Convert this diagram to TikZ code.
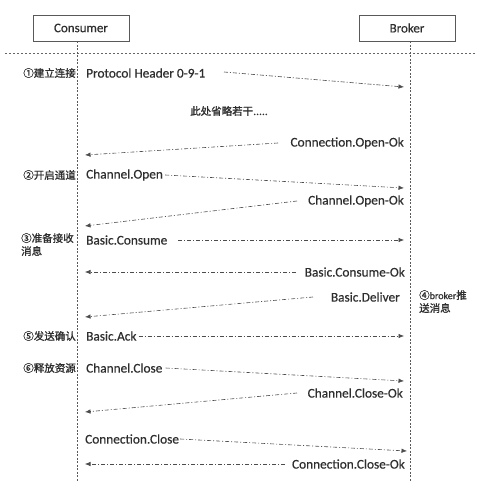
\documentclass[tikz,border=0pt]{standalone}
\usepackage{fontspec}
\setmainfont{Carlito}[FakeBold=0.4]
\newfontfamily\cjk{Noto Sans CJK SC}[FakeBold=1.2]
\usetikzlibrary{arrows.meta}
\begin{document}
\begin{tikzpicture}[x=1pt,y=-1pt,
  every node/.style={inner sep=0pt,text=black!82},
  actor/.style={draw=black!65,line width=0.8pt,minimum width=96pt,minimum height=26pt,font=\fontsize{13}{15}\selectfont},
  life/.style={draw=black!65,line width=0.7pt,dash pattern=on 2pt off 1.5pt},
  msg/.style={draw=black!70,line width=0.6pt,dash pattern=on 4pt off 2pt on 1pt off 2pt,-{Latex[length=5.5pt,width=4.5pt]}},
  lbl/.style={font=\fontsize{13.3}{15}\selectfont},
  phase/.style={font=\cjk\fontsize{10.5}{13}\selectfont,align=left},
]
\useasboundingbox (0,0) rectangle (486,494);
\fill[white] (0,0) rectangle (486,494);

% participants
\node[actor] (consumer) at (81,28) {Consumer};
\node[actor] (broker) at (407,28) {Broker};

% separator under the header
\draw[draw=black!60,line width=0.6pt,dash pattern=on 2pt off 2pt] (5,53) coordinate (sepL) -- (475,53) coordinate (sepR);

% lifelines
\coordinate (cEnd) at (77,482);
\coordinate (bEnd) at (410,482);
\draw[life] (consumer.south -| cEnd) -- (cEnd);
\draw[life] (broker.south -| bEnd) -- (bEnd);

% phase captions
\node[phase,anchor=east] (s1) at (76,73) {①建立连接};
\node[phase,anchor=east] (s2) at (76,175) {②开启通道};
\node[phase,anchor=north west] (s3) at (21,233) {③准备接收\\消息};
\node[phase,anchor=north west] (s4) at (419,290) {④{\fontsize{10}{12}\selectfont\rmfamily broker}推\\送消息};
\node[phase,anchor=east] (s5) at (76,336) {⑤发送确认};
\node[phase,anchor=east] (s6) at (76,368) {⑥释放资源};

\node[phase] (skip) at (229,111) {此处省略若干.....};

% messages
\node[lbl,anchor=west] (m1) at (86,73) {Protocol Header 0-9-1};
\coordinate (m1e) at (404,87);
\draw[msg] (224,72) -- (m1e);

\node[lbl,anchor=east] (m2) at (404,143) {Connection.Open-Ok};
\coordinate (m2e) at (85,155);
\draw[msg] (278,143) -- (m2e);

\node[lbl,anchor=west] (m3) at (86,175) {Channel.Open};
\coordinate (m3e) at (404,188);
\draw[msg] (m3.east) ++(2,0) -- (m3e);

\node[lbl,anchor=east] (m4) at (404,201) {Channel.Open-Ok};
\coordinate (m4e) at (85,226);
\draw[msg] (297,201) -- (m4e);

\node[lbl,anchor=west] (m5) at (86,240) {Basic.Consume};
\coordinate (m5e) at (404,240);
\draw[msg] (178,240) -- (m5e);

\node[lbl,anchor=east] (m6) at (405,272) {Basic.Consume-Ok};
\coordinate (m6e) at (85,272);
\draw[msg] (296,272) -- (m6e);

\node[lbl,anchor=east] (m7) at (400,297) {Basic.Deliver};
\coordinate (m7e) at (85,317);
\draw[msg] (313,297) -- (m7e);

\node[lbl,anchor=west] (m8) at (86,336) {Basic.Ack};
\coordinate (m8e) at (404,336);
\draw[msg] (m8.east) ++(2,0) -- (m8e);

\node[lbl,anchor=west] (m9) at (86,368) {Channel.Close};
\coordinate (m9e) at (404,381);
\draw[msg] (m9.east) ++(3,0) -- (m9e);

\node[lbl,anchor=east] (m10) at (403,393) {Channel.Close-Ok};
\coordinate (m10e) at (85,412);
\draw[msg] (297,393) -- (m10e);

\node[lbl,anchor=west] (m11) at (85,439) {Connection.Close};
\coordinate (m11e) at (407,451);
\draw[msg] (m11.east) ++(1,0) -- (m11e);

\node[lbl,anchor=east] (m12) at (405,464) {Connection.Close-Ok};
\coordinate (m12e) at (85,464);
\draw[msg] (285,464) -- (m12e);
\end{tikzpicture}
\end{document}
